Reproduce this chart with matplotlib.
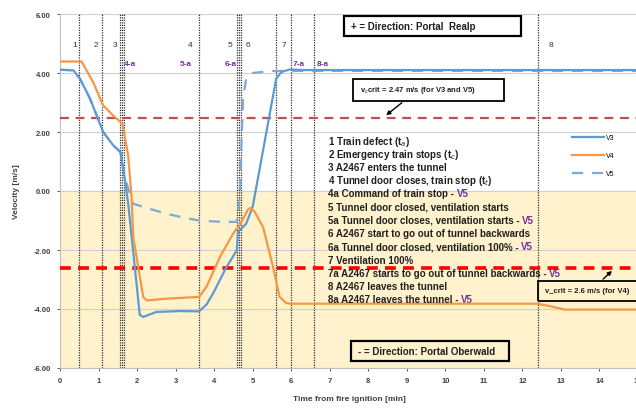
import matplotlib
matplotlib.use("Agg")
import matplotlib.pyplot as plt
from matplotlib import font_manager
from matplotlib.patches import Rectangle

# fuente estrecha parecida a Calibri si existe
nombres = {f.name for f in font_manager.fontManager.ttflist}
FUENTE = "Liberation Sans Narrow" if "Liberation Sans Narrow" in nombres else "Liberation Sans"
plt.rcParams["font.family"] = [FUENTE, "DejaVu Sans"]

# ---- datos ----
t_v3 = [0, 0.35, 0.52, 0.78, 1.12, 1.38, 1.57, 1.68, 1.77, 1.9, 2.07, 2.16, 2.3, 2.5, 3.1, 3.61,
        3.8, 3.97, 4.32, 4.59, 4.62, 4.83, 5.0, 5.61, 5.74, 5.96, 6.3, 15]
v3 = [4.11, 4.09, 3.8, 3.13, 2.0, 1.55, 1.32, 0.42, -0.43, -2.06, -4.2, -4.27, -4.2, -4.1, -4.07, -4.08,
      -3.85, -3.48, -2.58, -2.01, -1.39, -1.11, -0.54, 3.8, 4.03, 4.12, 4.1, 4.1]

t_v4 = [0, 0.56, 0.86, 1.12, 1.38, 1.62, 1.77, 1.86, 1.9, 2.16, 2.25, 2.76, 3.61, 3.8, 4.15, 4.49,
        4.66, 4.88, 4.94, 5.05, 5.27, 5.53, 5.7, 5.87, 6.0, 12.38, 12.7, 13.1, 15]
v4 = [4.39, 4.39, 3.69, 2.9, 2.56, 2.28, 1.2, -0.26, -1.56, -3.59, -3.71, -3.65, -3.59, -3.25, -2.24, -1.45,
      -1.16, -0.63, -0.57, -0.7, -1.22, -2.58, -3.59, -3.8, -3.82, -3.82, -3.9, -4.02, -4.02]

t_v5 = [0, 0.35, 0.52, 0.78, 1.12, 1.38, 1.57, 1.68, 1.77, 1.9, 2.16, 2.76, 3.2, 3.61, 4.1, 4.59,
        4.66, 4.75, 4.83, 5.0, 5.5, 15]
v5 = [4.11, 4.09, 3.8, 3.13, 2.0, 1.55, 1.32, 0.5, 0.08, -0.43, -0.54, -0.77, -0.9, -1.0, -1.04, -1.05,
      -0.26, 3.13, 3.8, 4.0, 4.07, 4.07]

v_crit_35 = 2.47
v_crit_4 = -2.6

# eventos (lineas verticales)
t_eventos = [0.5, 1.1, 1.55, 1.6, 1.65, 3.6, 4.6, 4.65, 4.7, 5.6, 6.0, 6.6, 12.4]
etiq_num = ["1", "2", "3", "4", "5", "6", "7", "8"]
t_num = [0.39, 0.93, 1.42, 3.38, 4.42, 4.87, 5.8, 12.75]
etiq_a = ["4-a", "5-a", "6-a", "7-a", "8-a"]
t_a = [1.81, 3.26, 4.42, 6.19, 6.81]

lista = [("1 Train defect (t$_a$)", ""),
         ("2 Emergency train stops (t$_c$)", ""),
         ("3 A2467 enters the tunnel", ""),
         ("4 Tunnel door closes, train stop (t$_t$)", ""),
         ("4a Command of train stop - ", "V5"),
         ("5 Tunnel door closed, ventilation starts", ""),
         ("5a Tunnel door closes, ventilation starts - ", "V5"),
         ("6 A2467 start to go out of tunnel backwards", ""),
         ("6a Tunnel door closed, ventilation 100% - ", "V5"),
         ("7 Ventilation 100%", ""),
         ("7a A2467 starts to go out of tunnel backwards - ", "V5"),
         ("8 A2467 leaves the tunnel", ""),
         ("8a A2467 leaves the tunnel - ", "V5")]

W, H = 636, 410
AZUL = "#5B9BD5"
NARANJA = "#F79646"
MORADO = "#7030A0"

fig = plt.figure(figsize=(W / 100, H / 100), dpi=100)
ax = fig.add_axes([60 / W, 1 - 369 / H, 578 / W, 354 / H])


def fx(px):
    return px / W


def fy(py):
    return 1 - py / H


ax.axhspan(-6, 0, color="#FFF2CC", zorder=0)
for y in range(-6, 7, 2):
    ax.axhline(y, color="#D0D0D0", lw=0.8, zorder=1)

for t in t_eventos:
    ax.axvline(t, color="#303030", lw=0.9, ls=(0, (1, 1)), zorder=2)

ax.axhline(v_crit_35, color="#C0504D", lw=1.6, ls=(0, (4, 3)), zorder=3)
ax.axhline(v_crit_4, color="#FF0000", lw=2.6, ls=(0, (3, 2)), zorder=3)

ax.plot(t_v3, v3, color=AZUL, lw=1.6, label="V3", zorder=5)
ax.plot(t_v4, v4, color=NARANJA, lw=1.6, label="V4", zorder=5)
ax.plot(t_v5, v5, color="#7FA8D6", lw=1.6, ls=(0, (5, 4)), label="V5", zorder=4)

for s, t in zip(etiq_num, t_num):
    ax.text(t, 4.97, s, fontsize=6, color="#303030", ha="center", va="center")
for s, t in zip(etiq_a, t_a):
    ax.text(t, 4.31, s, fontsize=6, color=MORADO, fontweight="bold", ha="center", va="center")

ax.set_xlim(0, 15)
ax.set_ylim(-6, 6)
ax.set_xticks(range(0, 16))
ax.set_yticks(range(-6, 7, 2))
ax.set_yticklabels([f"{y:.2f}" for y in range(-6, 7, 2)])
for lab in ax.get_xticklabels() + ax.get_yticklabels():
    lab.set_fontweight("bold")
ax.tick_params(labelsize=5.5, colors="#404040", length=2.5, width=0.6, pad=4)
for lado in ["top", "right"]:
    ax.spines[lado].set_visible(False)
for lado in ["left", "bottom"]:
    ax.spines[lado].set_color("#BFBFBF")
ax.set_xlabel("Time from fire ignition [min]", fontsize=6, fontweight="bold", color="#404040", labelpad=8)
ax.set_ylabel("Velocity [m/s]", fontsize=6, fontweight="bold", color="#404040", labelpad=10)

ax.legend(loc="upper left", bbox_to_anchor=((566 - 60) / 578, (192 - 129) / 354 + 0.5),
          frameon=False, fontsize=5, handlelength=4.5, labelspacing=1.6, handletextpad=0.3)

# lista de eventos
y0 = 141.7
for i, (negro, morado) in enumerate(lista):
    tx = fig.text(fx(328), fy(y0 + 13.2 * i), negro, fontsize=7, fontweight="bold",
                  color="#202020", va="center", zorder=6)
    if morado:
        ax.annotate(morado, xy=(1, 0.5), xycoords=tx, va="center", fontsize=7,
                    fontweight="bold", color=MORADO, annotation_clip=False)


def caja(x0, y0_, x1, y1, texto, lw, fs, relleno):
    r = Rectangle((fx(x0), fy(y1)), fx(x1) - fx(x0), fy(y0_) - fy(y1), transform=fig.transFigure,
                  fill=relleno, facecolor="white", edgecolor="black", lw=lw, zorder=7)
    fig.patches.append(r)
    fig.text(fx(x0 + 7), fy((y0_ + y1) / 2), texto, fontsize=fs, fontweight="bold",
             color="#202020", va="center", zorder=8)


caja(344, 17, 521, 37, "+ = Direction: Portal  Realp", 1.6, 7, True)
caja(353, 80, 504, 102, "v$_c$crit = 2.47 m/s (for V3 and V5)", 1.3, 5.5, True)
caja(538, 282, 645, 302, "v_crit = 2.6 m/s (for V4)", 1.3, 5.5, False)
caja(351, 342, 509, 362, "- = Direction: Portal Oberwald", 1.6, 7, False)

fig.add_artist(matplotlib.patches.FancyArrowPatch((fx(404), fy(102)), (fx(384), fy(118)),
               transform=fig.transFigure, arrowstyle="-|>", mutation_scale=6, lw=1, color="black"))
fig.add_artist(matplotlib.patches.FancyArrowPatch((fx(601), fy(282)), (fx(614), fy(270)),
               transform=fig.transFigure, arrowstyle="-|>", mutation_scale=6, lw=1, color="black"))

fig.savefig("out.png", dpi=100)
